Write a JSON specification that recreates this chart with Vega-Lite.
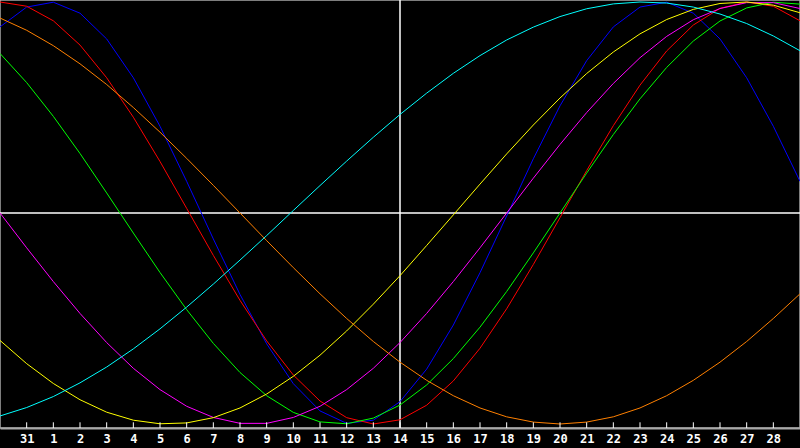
{
  "$schema": "https://vega.github.io/schema/vega-lite/v6.json",
  "description": "Biorhythm cycles around day 14.",
  "width": 800,
  "height": 428,
  "autosize": "none",
  "padding": {"left": 0, "top": 0, "right": 0, "bottom": 20},
  "background": "#000000",
  "config": {
    "view": {"stroke": "#a8a8a8", "strokeWidth": 1.5},
    "axis": {"grid": false}
  },
  "datasets": {
    "curves": [
      {"t": 0, "s": "physical", "v": 0.882}, {"t": 1, "s": "physical", "v": 0.976}, {"t": 2, "s": "physical", "v": 0.999}, {"t": 3, "s": "physical", "v": 0.947}, {"t": 4, "s": "physical", "v": 0.825}, {"t": 5, "s": "physical", "v": 0.641}, {"t": 6, "s": "physical", "v": 0.411}, {"t": 7, "s": "physical", "v": 0.150}, {"t": 8, "s": "physical", "v": -0.123}, {"t": 9, "s": "physical", "v": -0.386}, {"t": 10, "s": "physical", "v": -0.620}, {"t": 11, "s": "physical", "v": -0.809}, {"t": 12, "s": "physical", "v": -0.938}, {"t": 13, "s": "physical", "v": -0.997}, {"t": 14, "s": "physical", "v": -0.982}, {"t": 15, "s": "physical", "v": -0.894}, {"t": 16, "s": "physical", "v": -0.740}, {"t": 17, "s": "physical", "v": -0.531}, {"t": 18, "s": "physical", "v": -0.283}, {"t": 19, "s": "physical", "v": -0.014}, {"t": 20, "s": "physical", "v": 0.257}, {"t": 21, "s": "physical", "v": 0.508}, {"t": 22, "s": "physical", "v": 0.722}, {"t": 23, "s": "physical", "v": 0.882}, {"t": 24, "s": "physical", "v": 0.976}, {"t": 25, "s": "physical", "v": 0.999}, {"t": 26, "s": "physical", "v": 0.947}, {"t": 27, "s": "physical", "v": 0.825}, {"t": 28, "s": "physical", "v": 0.641}, {"t": 29, "s": "physical", "v": 0.411}, {"t": 30, "s": "physical", "v": 0.150},
      {"t": 0, "s": "emotional", "v": 1.000}, {"t": 1, "s": "emotional", "v": 0.980}, {"t": 2, "s": "emotional", "v": 0.911}, {"t": 3, "s": "emotional", "v": 0.796}, {"t": 4, "s": "emotional", "v": 0.641}, {"t": 5, "s": "emotional", "v": 0.454}, {"t": 6, "s": "emotional", "v": 0.244}, {"t": 7, "s": "emotional", "v": 0.022}, {"t": 8, "s": "emotional", "v": -0.201}, {"t": 9, "s": "emotional", "v": -0.414}, {"t": 10, "s": "emotional", "v": -0.606}, {"t": 11, "s": "emotional", "v": -0.768}, {"t": 12, "s": "emotional", "v": -0.891}, {"t": 13, "s": "emotional", "v": -0.970}, {"t": 14, "s": "emotional", "v": -1.000}, {"t": 15, "s": "emotional", "v": -0.980}, {"t": 16, "s": "emotional", "v": -0.911}, {"t": 17, "s": "emotional", "v": -0.796}, {"t": 18, "s": "emotional", "v": -0.641}, {"t": 19, "s": "emotional", "v": -0.454}, {"t": 20, "s": "emotional", "v": -0.244}, {"t": 21, "s": "emotional", "v": -0.022}, {"t": 22, "s": "emotional", "v": 0.201}, {"t": 23, "s": "emotional", "v": 0.414}, {"t": 24, "s": "emotional", "v": 0.606}, {"t": 25, "s": "emotional", "v": 0.768}, {"t": 26, "s": "emotional", "v": 0.891}, {"t": 27, "s": "emotional", "v": 0.970}, {"t": 28, "s": "emotional", "v": 1.000}, {"t": 29, "s": "emotional", "v": 0.980}, {"t": 30, "s": "emotional", "v": 0.911},
      {"t": 0, "s": "intellectual", "v": 0.756}, {"t": 1, "s": "intellectual", "v": 0.618}, {"t": 2, "s": "intellectual", "v": 0.458}, {"t": 3, "s": "intellectual", "v": 0.282}, {"t": 4, "s": "intellectual", "v": 0.095}, {"t": 5, "s": "intellectual", "v": -0.095}, {"t": 6, "s": "intellectual", "v": -0.282}, {"t": 7, "s": "intellectual", "v": -0.458}, {"t": 8, "s": "intellectual", "v": -0.618}, {"t": 9, "s": "intellectual", "v": -0.756}, {"t": 10, "s": "intellectual", "v": -0.866}, {"t": 11, "s": "intellectual", "v": -0.945}, {"t": 12, "s": "intellectual", "v": -0.990}, {"t": 13, "s": "intellectual", "v": -0.999}, {"t": 14, "s": "intellectual", "v": -0.972}, {"t": 15, "s": "intellectual", "v": -0.910}, {"t": 16, "s": "intellectual", "v": -0.815}, {"t": 17, "s": "intellectual", "v": -0.690}, {"t": 18, "s": "intellectual", "v": -0.541}, {"t": 19, "s": "intellectual", "v": -0.372}, {"t": 20, "s": "intellectual", "v": -0.189}, {"t": 21, "s": "intellectual", "v": 0.000}, {"t": 22, "s": "intellectual", "v": 0.189}, {"t": 23, "s": "intellectual", "v": 0.372}, {"t": 24, "s": "intellectual", "v": 0.541}, {"t": 25, "s": "intellectual", "v": 0.690}, {"t": 26, "s": "intellectual", "v": 0.815}, {"t": 27, "s": "intellectual", "v": 0.910}, {"t": 28, "s": "intellectual", "v": 0.972}, {"t": 29, "s": "intellectual", "v": 0.999}, {"t": 30, "s": "intellectual", "v": 0.990},
      {"t": 0, "s": "intuitive", "v": 0.000}, {"t": 1, "s": "intuitive", "v": -0.165}, {"t": 2, "s": "intuitive", "v": -0.325}, {"t": 3, "s": "intuitive", "v": -0.476}, {"t": 4, "s": "intuitive", "v": -0.614}, {"t": 5, "s": "intuitive", "v": -0.736}, {"t": 6, "s": "intuitive", "v": -0.837}, {"t": 7, "s": "intuitive", "v": -0.916}, {"t": 8, "s": "intuitive", "v": -0.969}, {"t": 9, "s": "intuitive", "v": -0.997}, {"t": 10, "s": "intuitive", "v": -0.997}, {"t": 11, "s": "intuitive", "v": -0.969}, {"t": 12, "s": "intuitive", "v": -0.916}, {"t": 13, "s": "intuitive", "v": -0.837}, {"t": 14, "s": "intuitive", "v": -0.736}, {"t": 15, "s": "intuitive", "v": -0.614}, {"t": 16, "s": "intuitive", "v": -0.476}, {"t": 17, "s": "intuitive", "v": -0.325}, {"t": 18, "s": "intuitive", "v": -0.165}, {"t": 19, "s": "intuitive", "v": 0.000}, {"t": 20, "s": "intuitive", "v": 0.165}, {"t": 21, "s": "intuitive", "v": 0.325}, {"t": 22, "s": "intuitive", "v": 0.476}, {"t": 23, "s": "intuitive", "v": 0.614}, {"t": 24, "s": "intuitive", "v": 0.736}, {"t": 25, "s": "intuitive", "v": 0.837}, {"t": 26, "s": "intuitive", "v": 0.916}, {"t": 27, "s": "intuitive", "v": 0.969}, {"t": 28, "s": "intuitive", "v": 0.997}, {"t": 29, "s": "intuitive", "v": 0.997}, {"t": 30, "s": "intuitive", "v": 0.969},
      {"t": 0, "s": "aesthetic", "v": -0.604}, {"t": 1, "s": "aesthetic", "v": -0.714}, {"t": 2, "s": "aesthetic", "v": -0.808}, {"t": 3, "s": "aesthetic", "v": -0.885}, {"t": 4, "s": "aesthetic", "v": -0.944}, {"t": 5, "s": "aesthetic", "v": -0.982}, {"t": 6, "s": "aesthetic", "v": -0.999}, {"t": 7, "s": "aesthetic", "v": -0.995}, {"t": 8, "s": "aesthetic", "v": -0.970}, {"t": 9, "s": "aesthetic", "v": -0.924}, {"t": 10, "s": "aesthetic", "v": -0.858}, {"t": 11, "s": "aesthetic", "v": -0.774}, {"t": 12, "s": "aesthetic", "v": -0.674}, {"t": 13, "s": "aesthetic", "v": -0.559}, {"t": 14, "s": "aesthetic", "v": -0.432}, {"t": 15, "s": "aesthetic", "v": -0.297}, {"t": 16, "s": "aesthetic", "v": -0.154}, {"t": 17, "s": "aesthetic", "v": -0.009}, {"t": 18, "s": "aesthetic", "v": 0.137}, {"t": 19, "s": "aesthetic", "v": 0.280}, {"t": 20, "s": "aesthetic", "v": 0.417}, {"t": 21, "s": "aesthetic", "v": 0.545}, {"t": 22, "s": "aesthetic", "v": 0.661}, {"t": 23, "s": "aesthetic", "v": 0.763}, {"t": 24, "s": "aesthetic", "v": 0.849}, {"t": 25, "s": "aesthetic", "v": 0.917}, {"t": 26, "s": "aesthetic", "v": 0.965}, {"t": 27, "s": "aesthetic", "v": 0.993}, {"t": 28, "s": "aesthetic", "v": 1.000}, {"t": 29, "s": "aesthetic", "v": 0.985}, {"t": 30, "s": "aesthetic", "v": 0.949},
      {"t": 0, "s": "awareness", "v": 0.924}, {"t": 1, "s": "awareness", "v": 0.866}, {"t": 2, "s": "awareness", "v": 0.793}, {"t": 3, "s": "awareness", "v": 0.707}, {"t": 4, "s": "awareness", "v": 0.609}, {"t": 5, "s": "awareness", "v": 0.500}, {"t": 6, "s": "awareness", "v": 0.383}, {"t": 7, "s": "awareness", "v": 0.259}, {"t": 8, "s": "awareness", "v": 0.131}, {"t": 9, "s": "awareness", "v": 0.000}, {"t": 10, "s": "awareness", "v": -0.131}, {"t": 11, "s": "awareness", "v": -0.259}, {"t": 12, "s": "awareness", "v": -0.383}, {"t": 13, "s": "awareness", "v": -0.500}, {"t": 14, "s": "awareness", "v": -0.609}, {"t": 15, "s": "awareness", "v": -0.707}, {"t": 16, "s": "awareness", "v": -0.793}, {"t": 17, "s": "awareness", "v": -0.866}, {"t": 18, "s": "awareness", "v": -0.924}, {"t": 19, "s": "awareness", "v": -0.966}, {"t": 20, "s": "awareness", "v": -0.991}, {"t": 21, "s": "awareness", "v": -1.000}, {"t": 22, "s": "awareness", "v": -0.991}, {"t": 23, "s": "awareness", "v": -0.966}, {"t": 24, "s": "awareness", "v": -0.924}, {"t": 25, "s": "awareness", "v": -0.866}, {"t": 26, "s": "awareness", "v": -0.793}, {"t": 27, "s": "awareness", "v": -0.707}, {"t": 28, "s": "awareness", "v": -0.609}, {"t": 29, "s": "awareness", "v": -0.500}, {"t": 30, "s": "awareness", "v": -0.383},
      {"t": 0, "s": "spiritual", "v": -0.962}, {"t": 1, "s": "spiritual", "v": -0.922}, {"t": 2, "s": "spiritual", "v": -0.870}, {"t": 3, "s": "spiritual", "v": -0.805}, {"t": 4, "s": "spiritual", "v": -0.730}, {"t": 5, "s": "spiritual", "v": -0.644}, {"t": 6, "s": "spiritual", "v": -0.549}, {"t": 7, "s": "spiritual", "v": -0.446}, {"t": 8, "s": "spiritual", "v": -0.337}, {"t": 9, "s": "spiritual", "v": -0.223}, {"t": 10, "s": "spiritual", "v": -0.107}, {"t": 11, "s": "spiritual", "v": 0.012}, {"t": 12, "s": "spiritual", "v": 0.130}, {"t": 13, "s": "spiritual", "v": 0.246}, {"t": 14, "s": "spiritual", "v": 0.359}, {"t": 15, "s": "spiritual", "v": 0.467}, {"t": 16, "s": "spiritual", "v": 0.568}, {"t": 17, "s": "spiritual", "v": 0.662}, {"t": 18, "s": "spiritual", "v": 0.746}, {"t": 19, "s": "spiritual", "v": 0.820}, {"t": 20, "s": "spiritual", "v": 0.881}, {"t": 21, "s": "spiritual", "v": 0.931}, {"t": 22, "s": "spiritual", "v": 0.968}, {"t": 23, "s": "spiritual", "v": 0.991}, {"t": 24, "s": "spiritual", "v": 1.000}, {"t": 25, "s": "spiritual", "v": 0.995}, {"t": 26, "s": "spiritual", "v": 0.976}, {"t": 27, "s": "spiritual", "v": 0.943}, {"t": 28, "s": "spiritual", "v": 0.898}, {"t": 29, "s": "spiritual", "v": 0.839}, {"t": 30, "s": "spiritual", "v": 0.769}
    ],
    "days": [
      {"t": 1}, {"t": 2}, {"t": 3}, {"t": 4}, {"t": 5}, {"t": 6}, {"t": 7}, {"t": 8}, {"t": 9}, {"t": 10},
      {"t": 11}, {"t": 12}, {"t": 13}, {"t": 14}, {"t": 15}, {"t": 16}, {"t": 17}, {"t": 18}, {"t": 19}, {"t": 20},
      {"t": 21}, {"t": 22}, {"t": 23}, {"t": 24}, {"t": 25}, {"t": 26}, {"t": 27}, {"t": 28}, {"t": 29}
    ],
    "today": [{"t": 15}],
    "zero": [{"v": 0}]
  },
  "layer": [
    {
      "data": {"name": "today"},
      "mark": {"type": "rule", "color": "#ffffff", "strokeWidth": 1.5},
      "encoding": {
        "x": {
          "field": "t", "type": "quantitative",
          "scale": {"domain": [0, 30], "nice": false, "zero": false},
          "axis": {
            "title": null,
            "values": [1, 2, 3, 4, 5, 6, 7, 8, 9, 10, 11, 12, 13, 14, 15, 16, 17, 18, 19, 20, 21, 22, 23, 24, 25, 26, 27, 28, 29],
            "labelExpr": "datum.value == 1 ? '31' : '' + (datum.value - 1)",
            "domainColor": "#a8a8a8", "domainWidth": 2, "ticks": false,
            "labelColor": "#ffffff", "labelFont": "DejaVu Sans Mono", "labelFontSize": 12, "labelFontWeight": "bold",
            "labelPadding": 5, "labelFlush": false, "labelOverlap": false
          }
        }
      }
    },
    {
      "data": {"name": "zero"},
      "mark": {"type": "rule", "color": "#ffffff", "strokeWidth": 1.5},
      "encoding": {
        "y": {"field": "v", "type": "quantitative", "scale": {"domain": [-1.019, 1.0095], "nice": false, "zero": false}, "axis": null}
      }
    },
    {
      "data": {"name": "curves"},
      "mark": {"type": "line", "strokeWidth": 1},
      "encoding": {
        "x": {
          "field": "t", "type": "quantitative",
          "scale": {"domain": [0, 30], "nice": false, "zero": false},
          "axis": {
            "title": null,
            "values": [1, 2, 3, 4, 5, 6, 7, 8, 9, 10, 11, 12, 13, 14, 15, 16, 17, 18, 19, 20, 21, 22, 23, 24, 25, 26, 27, 28, 29],
            "labelExpr": "datum.value == 1 ? '31' : '' + (datum.value - 1)",
            "domainColor": "#a8a8a8", "domainWidth": 2, "ticks": false,
            "labelColor": "#ffffff", "labelFont": "DejaVu Sans Mono", "labelFontSize": 12, "labelFontWeight": "bold",
            "labelPadding": 5, "labelFlush": false, "labelOverlap": false
          }
        },
        "y": {"field": "v", "type": "quantitative", "scale": {"domain": [-1.019, 1.0095], "nice": false, "zero": false}, "axis": null},
        "color": {
          "field": "s", "type": "nominal",
          "scale": {
            "domain": ["spiritual", "awareness", "aesthetic", "intuitive", "intellectual", "emotional", "physical"],
            "range": ["#00ffff", "#ff8000", "#ffff00", "#ff00ff", "#00ff00", "#ff0000", "#0000ff"]
          },
          "legend": null
        }
      }
    },
    {
      "data": {"name": "days"},
      "mark": {"type": "rule", "color": "#ffffff", "strokeWidth": 1},
      "encoding": {
        "x": {
          "field": "t", "type": "quantitative",
          "scale": {"domain": [0, 30], "nice": false, "zero": false},
          "axis": {
            "title": null,
            "values": [1, 2, 3, 4, 5, 6, 7, 8, 9, 10, 11, 12, 13, 14, 15, 16, 17, 18, 19, 20, 21, 22, 23, 24, 25, 26, 27, 28, 29],
            "labelExpr": "datum.value == 1 ? '31' : '' + (datum.value - 1)",
            "domainColor": "#a8a8a8", "domainWidth": 2, "ticks": false,
            "labelColor": "#ffffff", "labelFont": "DejaVu Sans Mono", "labelFontSize": 12, "labelFontWeight": "bold",
            "labelPadding": 5, "labelFlush": false, "labelOverlap": false
          }
        },
        "y": {"datum": -1.019, "type": "quantitative", "scale": {"domain": [-1.019, 1.0095], "nice": false, "zero": false}, "axis": null},
        "y2": {"datum": -0.992}
      }
    }
  ]
}
